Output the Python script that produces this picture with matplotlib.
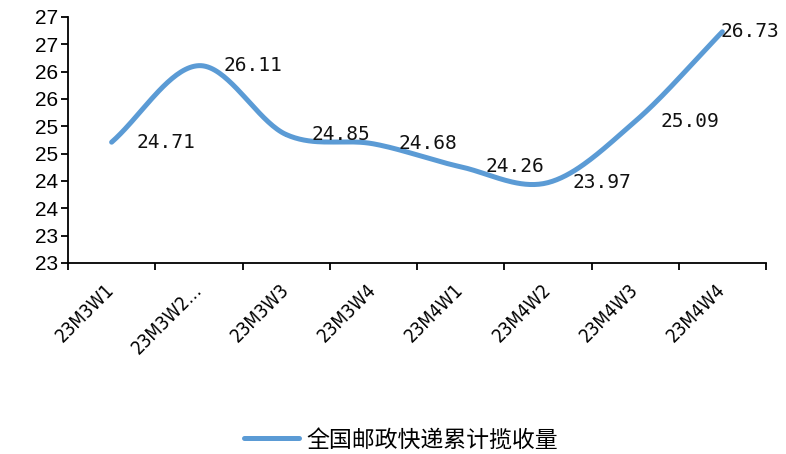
import numpy as np
import matplotlib
matplotlib.use("Agg")
import matplotlib.pyplot as plt
from matplotlib.lines import Line2D

# ---- data ----
categories = ["23M3W1", "23M3W2…", "23M3W3", "23M3W4",
              "23M4W1", "23M4W2", "23M4W3", "23M4W4"]
values = [24.71, 26.11, 24.85, 24.68, 24.26, 23.97, 25.09, 26.73]
series_name = "全国邮政快递累计揽收量"
yticks = [22.5, 23.0, 23.5, 24.0, 24.5, 25.0, 25.5, 26.0, 26.5, 27.0]
ytick_labels = ["23", "23", "24", "24", "25", "25", "26", "26", "27", "27"]

plt.rcParams['font.family'] = ['Noto Sans CJK SC', 'DejaVu Sans']


def smooth(xs, ys, n=40):
    # catmull-rom, close to excel's smoothed line
    xs = np.asarray(xs, float)
    ys = np.asarray(ys, float)
    px = np.concatenate([[2 * xs[0] - xs[1]], xs, [2 * xs[-1] - xs[-2]]])
    py = np.concatenate([[2 * ys[0] - ys[1]], ys, [2 * ys[-1] - ys[-2]]])
    outx, outy = [], []
    t = np.linspace(0, 1, n)
    for i in range(1, len(px) - 2):
        for p, out in ((px, outx), (py, outy)):
            p0, p1, p2, p3 = p[i - 1], p[i], p[i + 1], p[i + 2]
            out.extend(0.5 * (2 * p1 + (-p0 + p2) * t
                              + (2 * p0 - 5 * p1 + 4 * p2 - p3) * t ** 2
                              + (-p0 + 3 * p1 - 3 * p2 + p3) * t ** 3))
    return np.array(outx), np.array(outy)


fig = plt.figure(figsize=(7.86, 4.54), dpi=100)
ax = fig.add_axes([68 / 786, 1 - 263 / 454, (766 - 68) / 786, (263 - 17) / 454])

x = np.arange(len(categories))
sx, sy = smooth(x, values)
color = "#5B9BD5"
ax.plot(sx, sy, color=color, lw=3.6, solid_capstyle="round")

for i, (xi, v) in enumerate(zip(x, values)):
    dx = 18 if i < len(values) - 1 else -1  # last label pushed in so it fits
    ax.annotate(f"{v:.2f}", (xi, v), xytext=(dx, 0), textcoords="offset points",
                ha="left", va="center", fontsize=14, color="#111111",
                family=['DejaVu Sans Mono'])

ax.set_xlim(-0.5, len(categories) - 0.5)
ax.set_ylim(22.5, 27.0)
ax.set_yticks(yticks)
ax.set_yticklabels(ytick_labels, fontsize=15, family=['Liberation Sans', 'DejaVu Sans'])
ax.set_xticks(x)
ax.set_xticklabels(categories, rotation=45, ha="right", va="center", rotation_mode="anchor",
                   fontsize=13.5, family=['DejaVu Sans'], fontstretch="condensed")
ax.set_xticks(np.arange(-0.5, len(categories), 1.0), minor=True)
ax.tick_params(axis="x", which="major", length=0, pad=17)
ax.tick_params(axis="x", which="minor", length=5, width=1.3, direction="out")
ax.tick_params(axis="y", length=5, width=1.3, direction="out", pad=2)

for s in ["top", "right"]:
    ax.spines[s].set_visible(False)
ax.spines["left"].set_linewidth(1.3)
ax.spines["bottom"].set_linewidth(1.3)

handle = Line2D([0], [0], color=color, lw=3.6, solid_capstyle="round")
fig.legend([handle], [series_name], loc="center", bbox_to_anchor=(401 / 786, 1 - 440 / 454),
           frameon=False, fontsize=16.5, handlelength=2.4, handletextpad=0.35)

fig.savefig("out.png", dpi=100)
